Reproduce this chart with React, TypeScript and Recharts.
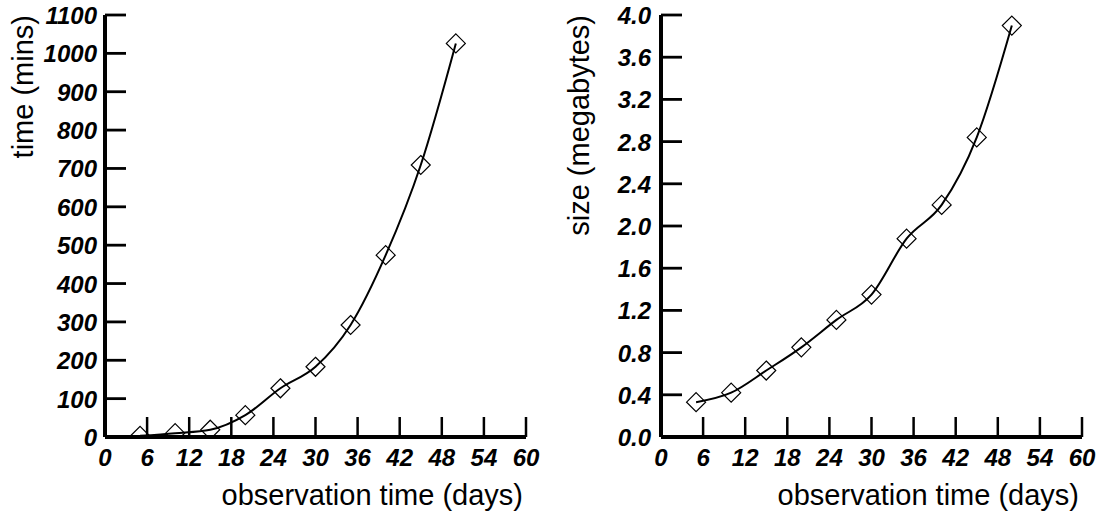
import React from "react";
import { LineChart, Line, XAxis, YAxis } from "recharts";

// observation days (shared by both charts)
const days = [5, 10, 15, 20, 25, 30, 35, 40, 45, 50];
// left chart: processing time in minutes
const timeMins = [3, 10, 19, 57, 127, 183, 292, 474, 709, 1026];
// right chart: size in megabytes
const sizeMB = [0.33, 0.42, 0.63, 0.85, 1.11, 1.35, 1.88, 2.2, 2.84, 3.9];

const dayTicks = [0, 6, 12, 18, 24, 30, 36, 42, 48, 54, 60];
const timeTicks = [0, 100, 200, 300, 400, 500, 600, 700, 800, 900, 1000, 1100];
const sizeTicks = [0, 0.4, 0.8, 1.2, 1.6, 2.0, 2.4, 2.8, 3.2, 3.6, 4.0];

const timeData = days.map((d, i) => ({ day: d, value: timeMins[i] }));
const sizeData = days.map((d, i) => ({ day: d, value: sizeMB[i] }));

const FONT = "'Liberation Sans', Arial, sans-serif";

const Diamond = (props: any) => {
  const { cx, cy, index } = props;
  if (cx == null || cy == null) return <g key={index} />;
  const r = 9.5;
  return (
    <path
      key={index}
      d={`M${cx},${cy - r}L${cx + r},${cy}L${cx},${cy + r}L${cx - r},${cy}Z`}
      fill="none"
      stroke="#000"
      strokeWidth={1.2}
    />
  );
};

const makeYTick = (gap: number, fmt: (v: number) => string) => (props: any) => {
  const { x, y, payload } = props;
  return (
    <g>
      <line x1={x} x2={x + 21} y1={y} y2={y} stroke="#000" strokeWidth={2.8} />
      <text
        x={x - gap}
        y={y + 9}
        textAnchor="end"
        fontFamily={FONT}
        fontWeight="bold"
        fontStyle="italic"
        fontSize={24}
        fill="#000"
      >
        {fmt(payload.value)}
      </text>
    </g>
  );
};

const XTick = (props: any) => {
  const { x, y, payload } = props;
  return (
    <g>
      <line x1={x} x2={x} y1={y} y2={y - 20} stroke="#000" strokeWidth={2.5} />
      <text
        x={x}
        y={y + 29}
        textAnchor="middle"
        fontFamily={FONT}
        fontWeight="bold"
        fontStyle="italic"
        fontSize={24}
        fill="#000"
      >
        {payload.value}
      </text>
    </g>
  );
};

const yTitle = (title: string) => (props: any) => {
  const vb = props.viewBox;
  const tx = vb.x + vb.width - 72;
  const ty = vb.y;
  return (
    <text
      x={tx}
      y={ty}
      transform={`rotate(-90 ${tx} ${ty})`}
      textAnchor="end"
      fontFamily={FONT}
      fontSize={29}
      fill="#000"
    >
      {title}
    </text>
  );
};

const xTitle = (props: any) => {
  const vb = props.viewBox;
  return (
    <text
      x={vb.x + vb.width - 3}
      y={vb.y + 68}
      textAnchor="end"
      fontFamily={FONT}
      fontSize={29}
      fill="#000"
    >
      observation time (days)
    </text>
  );
};

const axisLine = { stroke: "#000", strokeWidth: 4 };

export default function App() {
  return (
    <div
      style={{
        position: "absolute",
        left: 0,
        top: 0,
        width: 1101,
        height: 512,
        background: "#fff",
        display: "flex",
      }}
    >
      {/* LEFT: time */}
      <LineChart
        width={550}
        height={512}
        data={timeData}
        margin={{ top: 15, right: 24, bottom: 0, left: 0 }}
      >
        <XAxis
          dataKey="day"
          type="number"
          domain={[0, 60]}
          ticks={dayTicks}
          height={75}
          tickSize={0}
          tickMargin={0}
          tickLine={false}
          axisLine={axisLine}
          tick={XTick}
          interval={0}
          label={{ content: xTitle }}
        />
        <YAxis
          type="number"
          domain={[0, 1100]}
          ticks={timeTicks}
          width={105}
          tickSize={0}
          tickMargin={0}
          tickLine={false}
          axisLine={axisLine}
          allowDataOverflow
          interval={0}
          tick={makeYTick(8, (v) => String(v))}
          label={{ content: yTitle("time (mins)") }}
        />
        <Line
          dataKey="value"
          type="monotone"
          stroke="#000"
          strokeWidth={2}
          dot={Diamond}
          activeDot={false}
          isAnimationActive={false}
        />
      </LineChart>

      {/* RIGHT: size */}
      <LineChart
        width={551}
        height={512}
        data={sizeData}
        margin={{ top: 15, right: 19, bottom: 0, left: 0 }}
      >
        <XAxis
          dataKey="day"
          type="number"
          domain={[0, 60]}
          ticks={dayTicks}
          height={75}
          tickSize={0}
          tickMargin={0}
          tickLine={false}
          axisLine={axisLine}
          tick={XTick}
          interval={0}
          label={{ content: xTitle }}
        />
        <YAxis
          type="number"
          domain={[0, 4]}
          ticks={sizeTicks}
          width={111}
          tickSize={0}
          tickMargin={0}
          tickLine={false}
          axisLine={axisLine}
          allowDataOverflow
          interval={0}
          tick={makeYTick(10, (v) => v.toFixed(1))}
          label={{ content: yTitle("size (megabytes)") }}
        />
        <Line
          dataKey="value"
          type="monotone"
          stroke="#000"
          strokeWidth={2}
          dot={Diamond}
          activeDot={false}
          isAnimationActive={false}
        />
      </LineChart>
    </div>
  );
}
